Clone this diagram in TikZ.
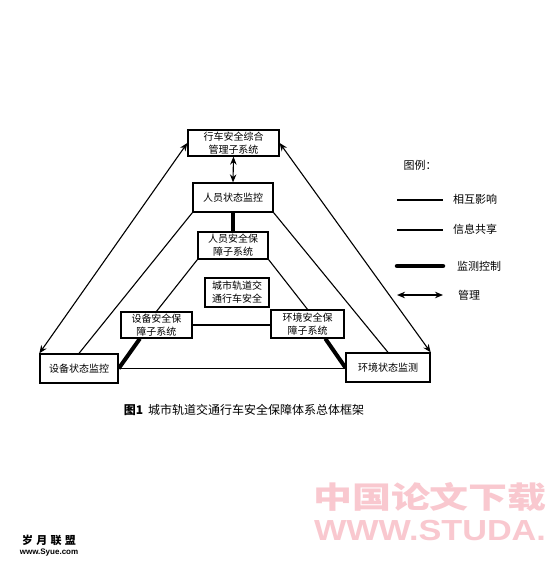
\documentclass[tikz,border=0pt]{standalone}
\usepackage{fontspec}
\setmainfont{Liberation Serif}
\newfontfamily\cjk{Noto Sans CJK SC}
\newfontfamily\wmsans{Liberation Sans}
\usetikzlibrary{arrows.meta,calc}
\definecolor{wmpink}{RGB}{249,200,207}
\begin{document}
\begin{tikzpicture}[x=1pt,y=-1pt,
  box/.style={draw,line width=1.3pt,inner sep=0pt,align=center,font=\cjk\fontsize{10}{13}\selectfont},
  rel/.style={line width=1.1pt},
  ctrl/.style={line width=4pt},
  mgmt/.style={line width=1.1pt,{Stealth[length=8pt,width=6.5pt]}-{Stealth[length=8pt,width=6.5pt]}},
  lbl/.style={font=\cjk\fontsize{11}{13}\selectfont,anchor=west,inner sep=0pt}]
\useasboundingbox (0,0) rectangle (552,566);
\fill[white] (0,0) rectangle (552,566);

% boxes
\node[box,minimum width=91pt,minimum height=26pt] (T) at (233.5,143) {行车安全综合\\管理子系统};
\node[box,minimum width=80pt,minimum height=29pt] (P1) at (233,197.5) {人员状态监控};
\node[box,minimum width=70pt,minimum height=27pt] (P2) at (233,245.5) {人员安全保\\障子系统};
\node[box,minimum width=64pt,minimum height=29pt] (C) at (237,292.5) {城市轨道交\\通行车安全};
\node[box,minimum width=71pt,minimum height=26pt] (E2) at (156.5,325) {设备安全保\\障子系统};
\node[box,minimum width=73pt,minimum height=28pt] (V2) at (307.5,324) {环境安全保\\障子系统};
\node[box,minimum width=78pt,minimum height=29pt] (E1) at (79,368.5) {设备状态监控};
\node[box,minimum width=84pt,minimum height=29pt] (V1) at (388,367.5) {环境状态监测};

% connectors
\draw[mgmt] (T.south) -- (P1.north);
\draw[ctrl] (P1.south) -- (P2.north);
\draw[rel] (P1.south west) -- (E1.north);
\draw[rel] (P1.south east) -- (V1.north);
\draw[rel] (P2.south west) -- (E2.north);
\draw[rel] (P2.south east) -- (V2.north);
\draw[rel] (E2.east) -- (E2.east -| V2.west);
\draw[rel] (E1.east) -- (E1.east -| V1.west);
\draw[ctrl] ($(E2.south west)!0.27!(E2.south east)$) -- (E1.east);
\draw[ctrl] ($(V2.south west)!0.74!(V2.south east)$) -- (V1.west);
\draw[mgmt] (E1.north west) -- (T.west);
\draw[mgmt] (T.east) -- (V1.north east);

% legend
\node[font=\cjk\fontsize{11}{13}\selectfont,inner sep=0pt] (LT) at (420,165) {图例：};
\coordinate (L1a) at (397,200); \coordinate (L1b) at (443,200);
\coordinate (L2a) at (397,230); \coordinate (L2b) at (443,230);
\coordinate (L3a) at (397,266); \coordinate (L3b) at (443,266);
\coordinate (L4a) at (397,295); \coordinate (L4b) at (443,295);
\draw[rel,line width=1.3pt] (L1a) -- (L1b);
\draw[rel,line width=1.3pt] (L2a) -- (L2b);
\draw[ctrl,line width=4.5pt,line cap=round] (L3a) -- (L3b);
\draw[mgmt,line width=1.5pt] (L4a) -- (L4b);
\node[lbl] (LL1) at (453,199) {相互影响};
\node[lbl] (LL2) at (453,229) {信息共享};
\node[lbl] (LL3) at (457,266) {监测控制};
\node[lbl] (LL4) at (458,295) {管理};

% caption
\node[inner sep=0pt,font=\cjk\fontsize{12}{14}\selectfont] (cap) at (244,410) {{\bfseries 图1}\hspace{0.4em}城市轨道交通行车安全保障体系总体框架};

% watermarks
\node[inner sep=0pt,text=wmpink,font=\cjk\bfseries\fontsize{30}{30}\selectfont,xscale=1.3] (wm1) at (430,497) {中国论文下载};
\node[inner sep=0pt,text=wmpink,font=\wmsans\bfseries\fontsize{29}{29}\selectfont,xscale=1.18] (wm2) at (430,531) {WWW.STUDA.};
\node[inner sep=0pt,font=\cjk\bfseries\fontsize{11}{12}\selectfont] (wm3) at (49,540) {岁\hspace{0.3em}月\hspace{0.3em}联\hspace{0.3em}盟};
\node[inner sep=0pt,font=\wmsans\bfseries\fontsize{8}{9}\selectfont] (wm4) at (49,553) {www.Syue.com};
\end{tikzpicture}
\end{document}
